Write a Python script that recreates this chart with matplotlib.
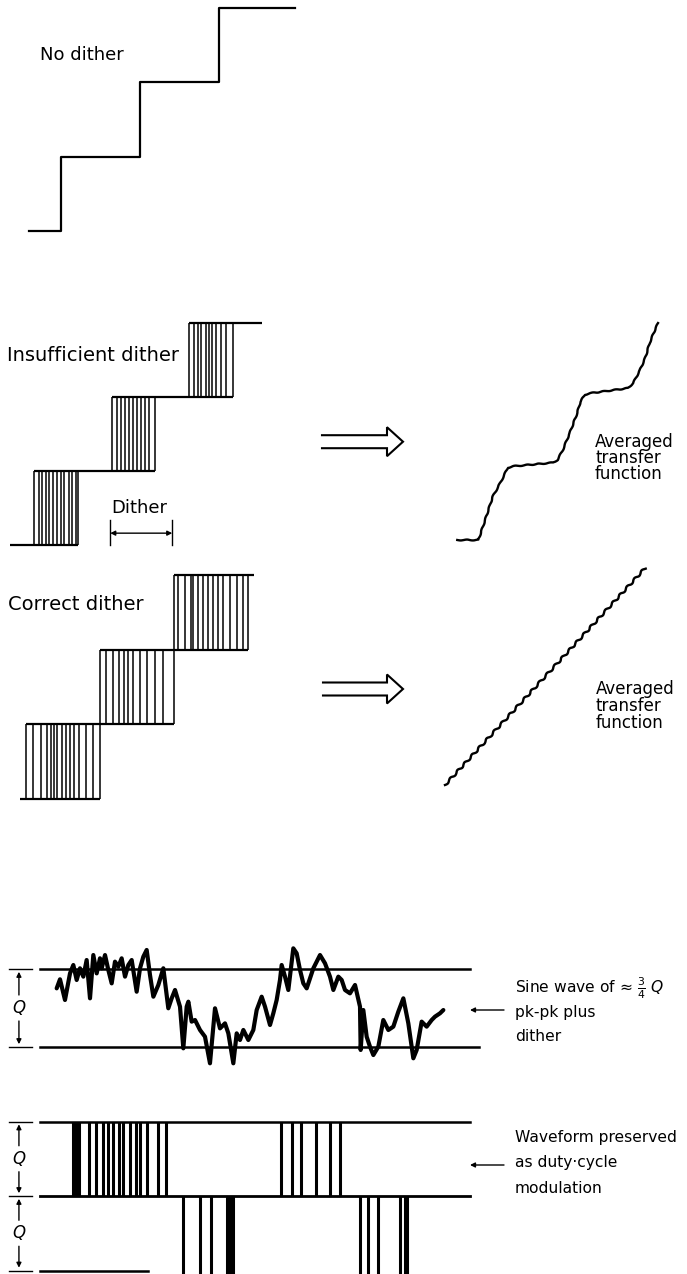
import numpy as np
import matplotlib
matplotlib.use('Agg')
import matplotlib.pyplot as plt

plt.rcParams['font.family'] = ['DejaVu Sans']

W, H = 687, 1274

# ---------------- data ----------------
# quantizer staircase: transition inputs and output levels
step_edges = [1, 2, 3]
levels = [0, 1, 2, 3]
nodither_range = (0.60, 3.96)

# insufficient dither: span of input, dither half width, dither line offsets (fraction of half width)
insuff_range = (0.41, 3.66)
insuff_halfwidth = 0.28
insuff_lines = [
    [-1, -0.80, -0.63, -0.44, -0.32, -0.13, 0.03, 0.22, 0.38, 0.59, 0.75, 0.90, 1.0],
    [-1, -0.77, -0.57, -0.38, -0.22, -0.02, 0.16, 0.36, 0.55, 0.73, 1.0],
    [-1, -0.80, -0.60, -0.44, -0.24, -0.08, 0.03, 0.24, 0.46, 0.67, 1.0],
]
dither_span = (1.70, 2.50)

# correct dither
correct_range = (0.42, 3.58)
correct_halfwidth = 0.5
correct_lines = [
    [-1, -0.80, -0.60, -0.44, -0.33, -0.24, -0.15, -0.04, 0.08, 0.19, 0.30, 0.44, 0.62, 0.82, 1.0],
    [-1, -0.84, -0.64, -0.49, -0.35, -0.24, -0.10, 0.08, 0.26, 0.49, 0.71, 1.0],
    [-1, -0.88, -0.70, -0.55, -0.48, -0.34, -0.21, -0.07, 0.06, 0.20, 0.33, 0.51, 0.69, 0.87, 1.0],
]

# averaged transfer functions (input, output)
avg_insuff_in = [0.52, 0.80, 0.89, 0.99, 1.09, 1.19, 1.26, 1.79, 1.85, 1.92, 2.01,
                 2.11, 2.15, 2.21, 2.28, 2.78, 2.85, 2.94, 3.01, 3.07, 3.14, 3.18]
avg_insuff_out = [0.00, 0.00, 0.28, 0.60, 0.79, 1.00, 1.02, 1.07, 1.11, 1.25, 1.48,
                  1.76, 1.91, 2.01, 2.03, 2.10, 2.17, 2.35, 2.52, 2.73, 2.91, 3.00]
avg_correct_in = [0.5, 3.5]
avg_correct_out = [0.0, 3.0]

# sine wave plus dither (time, level in Q)
sine_t = [3.88, 4.65, 5.81, 6.98, 7.75, 8.53, 9.30, 10.08, 10.85, 11.63, 12.40, 13.18,
          13.95, 14.34, 15.12, 15.89, 16.67, 17.44, 18.22, 18.99, 19.77, 20.54, 21.32,
          22.48, 23.26, 24.03, 24.81, 25.58, 26.36, 27.52, 28.68, 29.84, 30.62, 31.40,
          32.56, 33.33, 34.11, 34.50, 35.27, 36.05, 37.21, 38.37, 39.53, 40.70, 41.86,
          43.02, 43.80, 44.96, 45.74, 46.51, 47.29, 48.45, 49.61, 50.39, 51.55, 52.33,
          53.49, 54.26, 55.04, 55.81, 56.20, 56.98, 57.75, 58.91, 59.69, 60.47, 61.24,
          62.02, 63.57, 65.12, 66.28, 67.44, 68.22, 69.38, 70.16, 70.93, 72.09, 73.26,
          74.42, 74.57, 75.19, 75.97, 76.74, 77.52, 78.68, 79.84, 81.01, 82.17, 83.33,
          84.50, 85.66, 86.82, 87.60, 88.76, 89.92, 91.09, 91.86, 93.02, 93.80]
sine_v = [0.752, 0.868, 0.603, 0.944, 1.051, 0.859, 1.009, 0.902, 1.115, 0.624, 1.179, 0.944,
          1.137, 1.009, 1.179, 0.987, 0.816, 1.094, 1.030, 1.137, 0.902, 1.051, 1.115,
          0.709, 1.009, 1.158, 1.244, 0.923, 0.645, 0.795, 1.009, 0.496, 0.624, 0.731,
          0.517, -0.017, 0.517, 0.581, 0.325, 0.346, 0.218, 0.132, -0.209, 0.496, 0.239,
          0.303, 0.175, -0.209, 0.175, 0.090, 0.218, 0.090, 0.218, 0.474, 0.645, 0.517,
          0.282, 0.432, 0.603, 0.859, 1.051, 0.902, 0.731, 1.265, 1.201, 0.987, 0.816,
          0.752, 1.009, 1.179, 1.073, 0.902, 0.731, 0.902, 0.859, 0.731, 0.688, 0.795,
          0.517, -0.038, 0.474, 0.132, 0.004, -0.103, 0.004, 0.346, 0.218, 0.261, 0.453,
          0.624, 0.303, -0.145, -0.038, 0.325, 0.261, 0.346, 0.389, 0.432, 0.474]

# quantized output pulses (start, end) in time units
up_pulses = [(7.67, 8.37), (9.07, 11.40), (13.02, 14.65), (15.70, 16.98), (18.26, 19.30),
             (20.93, 22.21), (23.14, 24.88), (27.33, 29.19),
             (56.16, 58.49), (60.81, 64.30), (67.44, 69.77)]
down_pulses = [(33.26, 37.21), (39.88, 43.49), (44.07, 44.88),
               (74.42, 76.28), (78.60, 83.72), (84.77, 85.35)]

# ---------------- figure ----------------
fig = plt.figure(figsize=(W / 100, H / 100), dpi=100)
ov = fig.add_axes([0, 0, 1, 1])
ov.set_xlim(0, W)
ov.set_ylim(H, 0)
ov.axis('off')


def panel(xlim, ylim, xmap, ymap):
    ux, px0, sx = xmap
    vy, py0, sy = ymap
    x0 = px0 + (xlim[0] - ux) * sx
    x1 = px0 + (xlim[1] - ux) * sx
    yb = py0 - (ylim[0] - vy) * sy
    yt = py0 - (ylim[1] - vy) * sy
    ax = fig.add_axes([x0 / W, 1 - yb / H, (x1 - x0) / W, (yb - yt) / H])
    ax.set_xlim(xlim)
    ax.set_ylim(ylim)
    ax.axis('off')
    ax.patch.set_alpha(0)
    return ax


K = 'black'

# Panel 1: no dither
ax1 = panel((0.5, 4.0), (-0.1, 3.05), (1, 61, 79), (0, 231, 74.3))
ax1.step([nodither_range[0]] + step_edges + [nodither_range[1]], levels + [levels[-1]],
         where='post', color=K, lw=1.6, clip_on=False)


def dithered(ax, rng, hw, lines_list, lw_v):
    n = len(step_edges)
    for k, lev in enumerate(levels):
        x0 = rng[0] if k == 0 else step_edges[k - 1] - hw
        x1 = rng[1] if k == n else step_edges[k] + hw
        ax.plot([x0, x1], [lev, lev], color=K, lw=1.6, solid_capstyle='butt', clip_on=False)
    for e, offs, lo, hi in zip(step_edges, lines_list, levels[:-1], levels[1:]):
        xs = e + hw * np.array(offs)
        ax.vlines(xs, lo, hi, color=K, lw=lw_v, clip_on=False)


# Panel 2: insufficient dither
ax2 = panel((0.4, 3.7), (-0.1, 3.1), (1, 56, 77.5), (0, 545, 74))
dithered(ax2, insuff_range, insuff_halfwidth, insuff_lines, 1.1)
for xd in dither_span:
    ax2.plot([xd, xd], [0.0, 0.34], color=K, lw=1.0, clip_on=False)
ax2.annotate('', xy=(dither_span[0], 0.16), xytext=(dither_span[1], 0.16),
             arrowprops=dict(arrowstyle='<|-|>', color=K, lw=1.0, mutation_scale=7,
                             shrinkA=0, shrinkB=0), annotation_clip=False)
ax2.text(sum(dither_span) / 2 - 0.02, 0.43, 'Dither', fontsize=13, ha='center', va='baseline')

# Panel 3: correct dither
ax3 = panel((0.4, 3.6), (-0.1, 3.1), (1, 63, 74), (0, 799, 74.7))
dithered(ax3, correct_range, correct_halfwidth, correct_lines, 1.1)

# Averaged transfer functions
ax2r = panel((0.4, 3.3), (-0.1, 3.1), (2, 569, 75.5), (0, 540, 72.3))
l1, = ax2r.plot(avg_insuff_in, avg_insuff_out, color=K, lw=1.7, clip_on=False,
                solid_joinstyle='round')
l1.set_sketch_params(scale=0.45, length=12, randomness=1.3)

ax3r = panel((0.3, 3.7), (-0.1, 3.1), (0.5, 445, 66.7), (0, 785, 72.3))
l2, = ax3r.plot(avg_correct_in, avg_correct_out, color=K, lw=1.7, clip_on=False,
                solid_joinstyle='round')
l2.set_sketch_params(scale=1.1, length=11, randomness=1.2)


def hollow_arrow(x0, x1, yc, hs=6.5, hh=14.5, hl=16):
    xs = [x0, x1 - hl, x1 - hl, x1, x1 - hl, x1 - hl, x0]
    ys = [yc - hs, yc - hs, yc - hh, yc, yc + hh, yc + hs, yc + hs]
    ov.plot(xs, ys, color=K, lw=1.5, solid_joinstyle='miter')


hollow_arrow(322, 403, 441.7)
hollow_arrow(323, 403, 689)

# Texts (overlay pixel layout)
ov.text(40, 59.5, 'No dither', fontsize=13, va='baseline')
ov.text(7, 361, 'Insufficient dither', fontsize=14, va='baseline')
ov.text(8, 610, 'Correct dither', fontsize=14, va='baseline')
for txt, yb in zip(['Averaged', 'transfer', 'function'], [447, 463, 479]):
    ov.text(595, yb, txt, fontsize=12, va='baseline')
for txt, yb in zip(['Averaged', 'transfer', 'function'], [694, 711, 728]):
    ov.text(596, yb, txt, fontsize=12, va='baseline')

# Panel 4: sine wave plus dither
ax4 = panel((-8, 104), (-0.4, 1.4), (0, 40, 4.3), (0, 1047, 78))
ax4.plot([0, 100], [1, 1], color=K, lw=1.8, clip_on=False)
ax4.plot([0, 102], [0, 0], color=K, lw=1.8, clip_on=False)
ax4.plot(sine_t, sine_v, color=K, lw=3.0, solid_joinstyle='round', solid_capstyle='round',
         clip_on=False)

# Panel 5: duty-cycle modulation
ax5 = panel((-8, 104), (-1.1, 1.4), (0, 40, 4.3), (0, 1196, 74.5))
ax5.plot([0, 100], [1, 1], color=K, lw=1.8, clip_on=False)
ax5.plot([0, 100], [0, 0], color=K, lw=2.0, clip_on=False)
ax5.plot([0, 25], [-1, -1], color=K, lw=1.8, clip_on=False)
for a, b in up_pulses:
    ax5.vlines([a, b], 0, 1, color=K, lw=2.2, clip_on=False)
for a, b in down_pulses:
    ax5.vlines([a, b], -1.06, 0, color=K, lw=2.2, clip_on=False)


def qbracket(ax, lv, sy):
    xq = -4.9
    for v in lv:
        ax.plot([-7.2, -1.9], [v, v], color=K, lw=1.0, clip_on=False)
    g = 13.0 / sy
    for top, bot in zip(lv[:-1], lv[1:]):
        mid = (top + bot) / 2
        ax.text(xq, mid, 'Q', fontsize=12, style='italic', ha='center', va='center')
        ax.annotate('', xy=(xq, top), xytext=(xq, mid + g),
                    arrowprops=dict(arrowstyle='-|>', color=K, lw=1.0, mutation_scale=7,
                                    shrinkA=0, shrinkB=2), annotation_clip=False)
        ax.annotate('', xy=(xq, bot), xytext=(xq, mid - g),
                    arrowprops=dict(arrowstyle='-|>', color=K, lw=1.0, mutation_scale=7,
                                    shrinkA=0, shrinkB=2), annotation_clip=False)


qbracket(ax4, [1, 0], 78)
qbracket(ax5, [1, 0, -1], 74.5)

# Right-hand labels
fs_r = 11.2
ov.text(515, 993, r'Sine wave of ≈ $\frac{3}{4}$ $Q$', fontsize=fs_r, va='baseline')
ov.text(515, 1017, 'pk-pk plus', fontsize=fs_r, va='baseline')
ov.text(515, 1041, 'dither', fontsize=fs_r, va='baseline')
ov.text(515, 1142, 'Waveform preserved', fontsize=fs_r, va='baseline')
ov.text(515, 1167.5, 'as duty·cycle', fontsize=fs_r, va='baseline')
ov.text(515, 1193, 'modulation', fontsize=fs_r, va='baseline')
for ya in (1010, 1165):
    ov.annotate('', xy=(470, ya), xytext=(504, ya),
                arrowprops=dict(arrowstyle='-|>', color=K, lw=1.0, mutation_scale=7,
                                shrinkA=0, shrinkB=0))

fig.savefig('out.png', dpi=100)
